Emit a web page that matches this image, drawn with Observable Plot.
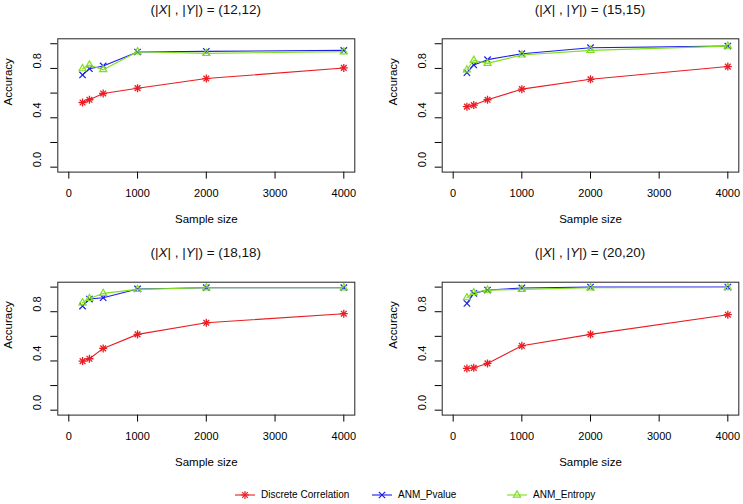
<!DOCTYPE html>
<html><head><meta charset="utf-8">
<script src="https://cdn.jsdelivr.net/npm/d3@7"></script>
<script src="https://cdn.jsdelivr.net/npm/@observablehq/plot@0.6"></script>
<style>
body{margin:0;background:#fff;font-family:"Liberation Sans",Arial,Helvetica,sans-serif;color:#000;}
#fig{position:relative;width:743px;height:504px;overflow:hidden;}
.panel{position:absolute;}
.title{position:absolute;font-size:13.5px;transform:translate(-50%,-50%);white-space:nowrap;color:#111;line-height:1;}
.leg{position:absolute;top:486px;height:18px;line-height:18px;font-size:10px;white-space:nowrap;display:flex;align-items:center;}
.leg svg{margin-right:6px;}
</style></head>
<body><div id="fig"></div>
<script>
// ---- data ----
const sampleSizes = [200, 300, 500, 1000, 2000, 4000];
const xTicks = [0, 1000, 2000, 3000, 4000];
const yTicks = [0, 0.2, 0.4, 0.6, 0.8, 1.0];
const yTickLabels = [0, 0.4, 0.8];
const panelSizes = ["(12,12)", "(15,15)", "(18,18)", "(20,20)"];
const seriesNames = ["Discrete Correlation", "ANM_Pvalue", "ANM_Entropy"];
const seriesColors = ["#ea1c22", "#1c1ceb", "#7fdf1e"];

const discrete12 = [0.524, 0.546, 0.597, 0.640, 0.718, 0.804];
const pvalue12   = [0.747, 0.798, 0.820, 0.933, 0.938, 0.946];
const entropy12  = [0.798, 0.828, 0.790, 0.935, 0.922, 0.935];

const discrete15 = [0.490, 0.503, 0.546, 0.632, 0.712, 0.815];
const pvalue15   = [0.766, 0.828, 0.871, 0.919, 0.968, 0.981];
const entropy15  = [0.788, 0.866, 0.841, 0.909, 0.946, 0.981];

const discrete18 = [0.399, 0.418, 0.502, 0.616, 0.710, 0.784];
const pvalue18   = [0.846, 0.903, 0.914, 0.985, 0.995, 0.995];
const entropy18  = [0.873, 0.908, 0.949, 0.982, 0.995, 0.995];

const discrete20 = [0.339, 0.344, 0.380, 0.523, 0.616, 0.776];
const pvalue20   = [0.868, 0.949, 0.976, 0.993, 1.000, 1.000];
const entropy20  = [0.914, 0.955, 0.976, 0.982, 0.995, 0.997];

const panelValues = [
  [discrete12, pvalue12, entropy12],
  [discrete15, pvalue15, entropy15],
  [discrete18, pvalue18, entropy18],
  [discrete20, pvalue20, entropy20]
];

// ---- layout ----
const layouts = [
  {left: 0,   top: 0,   width: 371, height: 235, mL: 57.3, mR: 16.7, mT: 38.3, mB: 63.4},
  {left: 371, top: 0,   width: 372, height: 235, mL: 70.7, mR: 4.7,  mT: 38.3, mB: 63.4},
  {left: 0,   top: 235, width: 371, height: 235, mL: 57.3, mR: 16.7, mT: 46.7, mB: 55.4},
  {left: 371, top: 235, width: 372, height: 235, mL: 70.7, mR: 4.7,  mT: 46.7, mB: 55.4}
];

const fig = document.getElementById("fig");

layouts.forEach((L, i) => {
  const rows = [];
  seriesNames.forEach((name, s) => sampleSizes.forEach((n, j) =>
    rows.push({series: name, n, acc: panelValues[i][s][j]})));
  const of = name => rows.filter(d => d.series === name);

  const chart = Plot.plot({
    width: L.width, height: L.height,
    marginLeft: L.mL, marginRight: L.mR, marginTop: L.mT, marginBottom: L.mB,
    style: {background: "transparent", fontFamily: "'Liberation Sans', Arial, Helvetica, sans-serif", color: "#000"},
    x: {domain: [-160, 4160]},
    y: {domain: [-0.04, 1.04]},
    marks: [
      Plot.axisX({ticks: xTicks, tickSize: 7, tickPadding: 10, fontSize: 11, label: null, tickFormat: d3.format("d")}),
      Plot.axisY({ticks: yTicks, tickSize: 7, tickFormat: () => "", label: null}),
      Plot.text(yTickLabels, {y: d => d, frameAnchor: "left", dx: -20, rotate: -90, text: d3.format(".1f"), fontSize: 11}),
      Plot.text(["Accuracy"], {frameAnchor: "left", dx: -49, rotate: -90, fontSize: 11.5}),
      Plot.text(["Sample size"], {frameAnchor: "bottom", dy: 50.5, fontSize: 11.5}),
      // series
      Plot.line(of(seriesNames[0]), {x: "n", y: "acc", stroke: seriesColors[0], strokeWidth: 1.1}),
      Plot.dot(of(seriesNames[0]), {x: "n", y: "acc", symbol: "plus", r: 2.7, stroke: seriesColors[0], strokeWidth: 1.3}),
      Plot.dot(of(seriesNames[0]), {x: "n", y: "acc", symbol: "times", r: 2.7, stroke: seriesColors[0], strokeWidth: 1.3}),
      Plot.line(of(seriesNames[1]), {x: "n", y: "acc", stroke: seriesColors[1], strokeWidth: 1.1}),
      Plot.dot(of(seriesNames[1]), {x: "n", y: "acc", symbol: "times", r: 3, stroke: seriesColors[1], strokeWidth: 1.2}),
      Plot.line(of(seriesNames[2]), {x: "n", y: "acc", stroke: seriesColors[2], strokeWidth: 1.1}),
      Plot.dot(of(seriesNames[2]), {x: "n", y: "acc", symbol: "triangle2", r: 3.4, stroke: seriesColors[2], strokeWidth: 1.2, fill: "none"}),
      Plot.frame({stroke: "#222", strokeWidth: 1})
    ]
  });
  chart.classList.add("panel");
  chart.style.left = L.left + "px";
  chart.style.top = L.top + "px";
  chart.style.position = "absolute";
  fig.appendChild(chart);

  // panel title
  const t = document.createElement("div");
  t.className = "title";
  t.innerHTML = "(|<i>X</i>| , |<i>Y</i>|) = " + panelSizes[i];
  t.style.left = (L.left + L.mL + (L.width - L.mL - L.mR) / 2) + "px";
  t.style.top = (L.top + L.mT - 28.3) + "px";
  fig.appendChild(t);
});

// ---- legend ----
const legendLeft = [235, 372, 507];
const legendSymbols = [["plus", "times"], ["times"], ["triangle2"]];
const symMap = {plus: d3.symbolPlus, times: d3.symbolTimes, triangle2: d3.symbolTriangle2};
const symSize = {plus: Math.PI * 2.7 * 2.7, times: Math.PI * 3 * 3, triangle2: Math.PI * 3.4 * 3.4};
seriesNames.forEach((name, s) => {
  const item = document.createElement("div");
  item.className = "leg";
  item.style.left = legendLeft[s] + "px";
  const svg = d3.create("svg").attr("width", 20).attr("height", 18);
  svg.append("line").attr("x1", 0).attr("x2", 20).attr("y1", 9).attr("y2", 9)
    .attr("stroke", seriesColors[s]).attr("stroke-width", 1.1);
  legendSymbols[s].forEach(k => {
    const size = s === 0 ? Math.PI * 2.7 * 2.7 : symSize[k];
    svg.append("path").attr("d", d3.symbol(symMap[k], size)()).attr("transform", "translate(10,9)")
      .attr("fill", "none").attr("stroke", seriesColors[s]).attr("stroke-width", 1.2);
  });
  item.appendChild(svg.node());
  const span = document.createElement("span");
  span.textContent = name;
  item.appendChild(span);
  fig.appendChild(item);
});
</script>
</body></html>
